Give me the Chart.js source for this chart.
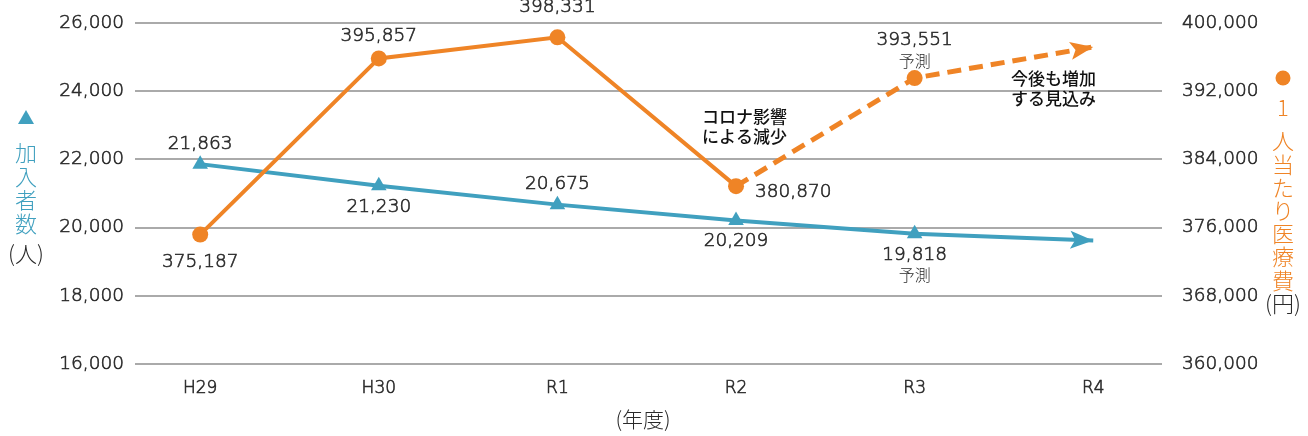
<!DOCTYPE html>
<html>
<head>
<meta charset="utf-8">
<script src="https://cdn.jsdelivr.net/npm/chart.js@4"></script>
<style>
  html, body { margin: 0; padding: 0; background: #fff; }
  #wrap { width: 1308px; height: 436px; position: relative; }
</style>
</head>
<body>
<div id="wrap"><canvas id="c" width="1308" height="436"></canvas></div>
<script>
// データ
const years = ['H29', 'H30', 'R1', 'R2', 'R3', 'R4'];
const members = [21863, 21230, 20675, 20209, 19818, 19620];      // R4 は矢印の先
const costs = [375187, 395857, 398331, 380870, 393551, 397200];  // R4 は矢印の先
const memberTicks = [16000, 18000, 20000, 22000, 24000, 26000];
const costTicks = [360000, 368000, 376000, 384000, 392000, 400000];
const forecastIndex = 4; // R3 は予測

const TEAL = '#40a0bf';
const ORANGE = '#ef8426';
const TXT = '#2a2a2a';
const FONT = '"Noto Sans CJK JP", "Noto Sans", sans-serif';
const NUM = '"DejaVu Sans", "Noto Sans CJK JP", sans-serif';
const LIGHT = '300 ';
const XLIGHT = '200 ';
const STROKE = 0.6;

const fmt = v => v.toLocaleString('en-US');

// ラベル位置（値ごと）
const memberPos = ['above', 'below', 'above', 'below', 'below', null];
const costPos = ['below', 'above', 'above', 'right', 'above', null];

const labelPlugin = {
    id: 'labels',
    afterDatasetsDraw(chart) {
        const ctx = chart.ctx;
        const x = chart.scales.x;
        ctx.save();
        ctx.textAlign = 'center';
        ctx.textBaseline = 'middle';
        ctx.strokeStyle = TXT;
        ctx.lineWidth = STROKE;

        const numFont = XLIGHT + '18.5px ' + NUM;
        const smallFont = LIGHT + '16px ' + FONT;
        const put = (t, px, py) => { ctx.fillText(t, px, py); ctx.strokeText(t, px, py); };
        const draw = (vals, pos, scale, up, down) => {
            vals.forEach((v, i) => {
                if (!pos[i]) return;
                const px = x.getPixelForValue(i);
                const py = scale.getPixelForValue(v);
                ctx.fillStyle = TXT;
                ctx.font = numFont;
                ctx.textAlign = 'center';
                let ly;
                if (pos[i] === 'above') {
                    ly = py - (py < 45 ? 30 : up);
                    if (i === forecastIndex) {
                        ly = py - 38;
                        ctx.font = smallFont;
                        ctx.fillText('予測', px, py - 17);
                        ctx.font = numFont;
                    }
                    put(fmt(v), px, ly);
                } else if (pos[i] === 'below') {
                    ly = py + down;
                    put(fmt(v), px, ly);
                    if (i === forecastIndex) {
                        ctx.font = smallFont;
                        ctx.fillText('予測', px, ly + 20);
                    }
                } else {
                    ctx.textAlign = 'left';
                    put(fmt(v), px + 19, py + 6);
                }
            });
        };
        draw(members, memberPos, chart.scales.y, 20, 21);
        draw(costs, costPos, chart.scales.y2, 22, 28);

        // 注記
        ctx.fillStyle = '#111';
        ctx.font = '500 17px ' + FONT;
        ctx.textAlign = 'left';
        ctx.fillText('コロナ影響', 702, 117);
        ctx.fillText('による減少', 702, 137);
        ctx.fillText('今後も増加', 1011, 79);
        ctx.fillText('する見込み', 1011, 99);

        // 軸タイトル（縦書き）
        ctx.textAlign = 'center';
        ctx.fillStyle = TEAL;
        ctx.beginPath();
        ctx.moveTo(26, 110); ctx.lineTo(34, 124); ctx.lineTo(18, 124); ctx.closePath();
        ctx.fill();
        ctx.font = LIGHT + '22px ' + FONT;
        ['加', '入', '者', '数'].forEach((ch, k) => ctx.fillText(ch, 26, 153 + k * 23.5));
        ctx.fillStyle = TXT;
        ctx.fillText('(人)', 26, 254);

        ctx.fillStyle = ORANGE;
        ctx.beginPath();
        ctx.arc(1283, 78, 7.5, 0, Math.PI * 2);
        ctx.fill();
        ctx.fillText('1', 1283, 108);
        ['人', '当', 'た', 'り', '医', '療', '費'].forEach((ch, k) => ctx.fillText(ch, 1283, 141 + k * 23.2));
        ctx.fillStyle = TXT;
        ctx.fillText('(円)', 1283, 304);

        ctx.font = LIGHT + '21px ' + FONT;
        ctx.fillText('(年度)', 643, 419);
        ctx.restore();
    }
};

// 矢印
const arrowPlugin = {
    id: 'arrows',
    afterDatasetsDraw(chart) {
        const ctx = chart.ctx;
        const x = chart.scales.x;
        const n = years.length - 1;
        const head = (vals, scale, color) => {
            const x1 = x.getPixelForValue(n), y1 = scale.getPixelForValue(vals[n]);
            const x0 = x.getPixelForValue(n - 1), y0 = scale.getPixelForValue(vals[n - 1]);
            const a = Math.atan2(y1 - y0, x1 - x0);
            ctx.save();
            ctx.translate(x1, y1);
            ctx.rotate(a);
            ctx.fillStyle = color;
            ctx.beginPath();
            ctx.moveTo(0, 0);
            ctx.lineTo(-23, -9);
            ctx.lineTo(-18, 0);
            ctx.lineTo(-23, 9);
            ctx.closePath();
            ctx.fill();
            ctx.restore();
        };
        head(members, chart.scales.y, TEAL);
        head(costs, chart.scales.y2, ORANGE);
    }
};

const tickFont = { family: NUM, size: 18.5, weight: 200 };

const ctx = document.getElementById('c').getContext('2d');
new Chart(ctx, {
    type: 'line',
    data: {
        datasets: [{
            label: '加入者数',
            data: members.map((v, i) => ({ x: i, y: v })),
            yAxisID: 'y',
            borderColor: TEAL,
            backgroundColor: TEAL,
            borderWidth: 4,
            pointStyle: 'triangle',
            pointRadius: members.map((v, i) => i === years.length - 1 ? 0 : 9),
            pointBorderWidth: 0,
            tension: 0,
            order: 2
        }, {
            label: '1人当たり医療費',
            data: costs.map((v, i) => ({ x: i, y: v })),
            yAxisID: 'y2',
            borderColor: ORANGE,
            backgroundColor: ORANGE,
            borderWidth: 4,
            pointStyle: 'circle',
            pointRadius: costs.map((v, i) => i === years.length - 1 ? 0 : 8),
            pointBorderWidth: 0,
            tension: 0,
            segment: {
                borderDash: c => c.p0DataIndex >= 3 ? [14, 8] : undefined,
                borderWidth: c => c.p0DataIndex >= 3 ? 5 : 4
            },
            order: 1
        }]
    },
    options: {
        responsive: false,
        animation: false,
        devicePixelRatio: 1,
        layout: { padding: { top: 20, left: 0, right: 0, bottom: 0 } },
        plugins: { legend: { display: false }, tooltip: { enabled: false } },
        scales: {
            x: {
                type: 'linear',
                min: -0.365,
                max: 5.385,
                afterBuildTicks: s => { s.ticks = years.map((_, i) => ({ value: i })); },
                ticks: {
                    callback: v => years[v],
                    color: TXT,
                    font: { family: NUM, size: 17, weight: 200 },
                    textStrokeColor: TXT,
                    textStrokeWidth: STROKE,
                    padding: 6,
                    maxRotation: 0
                },
                grid: { display: false },
                border: { display: false },
                afterFit: s => { s.height = 72; }
            },
            y: {
                position: 'left',
                min: 16000,
                max: 26000,
                afterBuildTicks: s => { s.ticks = memberTicks.map(v => ({ value: v })); },
                ticks: {
                    callback: v => fmt(v),
                    color: TXT,
                    font: tickFont,
                    textStrokeColor: TXT,
                    textStrokeWidth: STROKE,
                    padding: 11
                },
                grid: { color: '#aaaaaa', lineWidth: 2, drawTicks: false },
                border: { display: false },
                afterFit: s => { s.width = 135; }
            },
            y2: {
                position: 'right',
                min: 360000,
                max: 400000,
                afterBuildTicks: s => { s.ticks = costTicks.map(v => ({ value: v })); },
                ticks: {
                    callback: v => fmt(v),
                    color: TXT,
                    font: tickFont,
                    textStrokeColor: TXT,
                    textStrokeWidth: STROKE,
                    padding: 12
                },
                grid: { display: false },
                border: { display: false },
                afterFit: s => { s.width = 146; }
            }
        }
    },
    plugins: [labelPlugin, arrowPlugin]
});
</script>
</body>
</html>
